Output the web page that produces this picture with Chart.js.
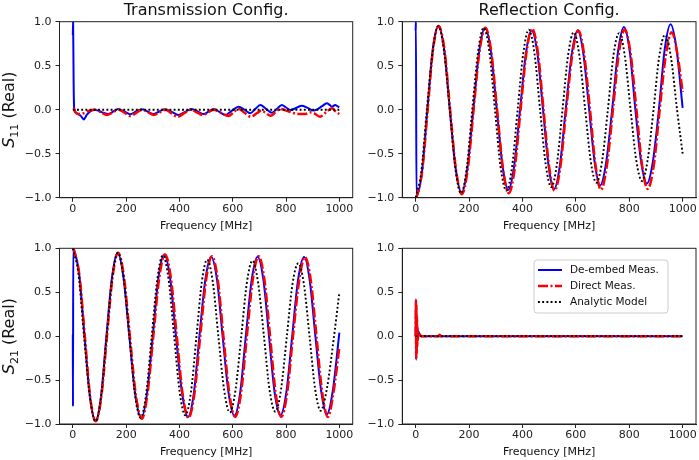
<!DOCTYPE html>
<html>
<head>
<meta charset="utf-8">
<title>S-parameters: transmission vs reflection</title>
<script src="https://cdn.jsdelivr.net/npm/chart.js@4.4.0/dist/chart.umd.min.js"></script>
<style>
  body { margin: 0; background: #fff; }
  #wrap { position: relative; width: 699px; height: 460px; }
  #wrap canvas { position: absolute; left: 0; top: 0; }
</style>
</head>
<body>
<div id="wrap">
  <canvas id="transS11" width="699" height="460"></canvas>
  <canvas id="reflS11" width="699" height="460"></canvas>
  <canvas id="transS21" width="699" height="460"></canvas>
  <canvas id="reflS21" width="699" height="460"></canvas>
</div>
<script>
// ---- data: [frequency MHz, real part] ----
const seriesNames = ['De-embed Meas.', 'Direct Meas.', 'Analytic Model'];
const freqTicks = [0, 200, 400, 600, 800, 1000];
const realTicks = [-1, -0.5, 0, 0.5, 1];

// Transmission config, S11
const transS11Deembed = [[0,0.85],[1,1.0],[3,0.3],[5,0.02],[10,-0.03],[20,-0.05],[30,-0.07],[41,-0.11],[52,-0.06],[65,-0.02],[78,0.0],[95,-0.01],[110,-0.03],[134,-0.05],[152,-0.02],[171,0.008],[193,-0.02],[215,-0.053],[237,-0.02],[259,0.004],[280,-0.02],[302,-0.05],[324,-0.02],[346,0.004],[371,-0.025],[396,-0.06],[421,-0.025],[446,0.008],[468,-0.02],[490,-0.05],[510,-0.02],[529,0.008],[550,-0.025],[572,-0.06],[597,-0.01],[622,0.034],[644,0.0],[666,-0.04],[685,0.01],[703,0.053],[725,0.01],[747,-0.034],[766,0.01],[784,0.053],[800,0.025],[816,-0.003],[838,0.02],[859,0.045],[881,0.02],[903,-0.01],[915,0.0],[935,0.04],[953,0.072],[963,0.055],[972,0.034],[984,0.053],[996,0.034],[1000,0.03]];
const transS11Direct = [[3,0.02],[10,-0.03],[22,-0.05],[40,-0.04],[62,-0.01],[84,0.0],[106,-0.03],[128,-0.06],[150,-0.03],[173,0.0],[194,-0.035],[215,-0.072],[238,-0.035],[260,0.0],[282,-0.03],[304,-0.06],[326,-0.03],[348,0.0],[370,-0.04],[393,-0.08],[418,-0.04],[442,0.0],[465,-0.03],[488,-0.06],[508,-0.03],[529,0.0],[556,-0.036],[584,-0.072],[603,-0.03],[622,0.01],[644,-0.035],[668,-0.08],[690,-0.04],[708,-0.01],[725,-0.04],[742,-0.07],[760,-0.03],[778,0.01],[800,-0.01],[820,-0.03],[845,-0.05],[870,-0.05],[890,-0.03],[905,-0.04],[927,-0.08],[950,-0.03],[972,0.016],[986,-0.02],[1000,-0.05]];
const transS11Model = [[0,0.0],[1000,0.0]];

// Reflection config, S11
const reflS11Deembed = [[0,0.9],[1,1.0],[3,-0.98],[24,-0.7],[44,0],[64,0.68],[85,0.95],[107,0.68],[128,0],[150,-0.67],[172,-0.94],[194,-0.66],[216,0],[238,0.66],[260,0.93],[282,0.66],[304,0],[326,-0.65],[347,-0.91],[369,-0.64],[391,0],[413,0.64],[434,0.9],[456,0.64],[477,0],[498,-0.64],[518,-0.905],[540,-0.64],[562,0],[585,0.64],[607,0.9],[628,0.64],[650,0],[671,-0.61],[691,-0.86],[713,-0.61],[736,0],[758,0.66],[780,0.94],[802,0.66],[823,0],[845,-0.6],[866,-0.84],[888,-0.6],[911,0],[933,0.69],[955,0.97],[977,0.69],[1000,0.02]];
const reflS11Direct = [[3,-1.0],[24,-0.71],[45,0],[65,0.68],[86,0.95],[108,0.68],[129,0],[151,-0.68],[173,-0.96],[195,-0.68],[217,0],[239,0.66],[261,0.93],[283,0.66],[305,0],[327,-0.67],[349,-0.95],[371,-0.67],[393,0],[415,0.65],[436,0.92],[458,0.65],[479,0],[500,-0.65],[520,-0.92],[542,-0.65],[564,0],[587,0.63],[609,0.9],[631,0.63],[653,0],[674,-0.64],[694,-0.91],[716,-0.64],[739,0],[761,0.64],[783,0.91],[805,0.64],[827,0],[848,-0.63],[869,-0.9],[892,-0.63],[914,0],[937,0.62],[959,0.88],[981,0.62],[1000,0.2]];
const reflS11Model = [[0,-1.0],[21,-0.71],[42,0],[64,0.67],[85,0.95],[106,0.67],[128,0],[149,-0.67],[170,-0.95],[191,-0.67],[212,0],[234,0.66],[255,0.93],[276,0.66],[297,0],[318,-0.65],[340,-0.92],[361,-0.65],[382,0],[403,0.64],[424,0.91],[445,0.64],[466,0],[487,-0.62],[508,-0.88],[529,-0.62],[550,0],[571,0.62],[592,0.88],[613,0.62],[635,0],[656,-0.59],[677,-0.83],[698,-0.59],[720,0],[741,0.62],[762,0.87],[783,0.62],[805,0],[826,-0.57],[848,-0.81],[869,-0.57],[891,0],[912,0.6],[934,0.85],[956,0.6],[979,0],[1000,-0.5]];

// Transmission config, S21
const transS21Deembed = [[0,0.02],[0.6,-0.8],[1.5,1.0],[4,0.99],[24,0.7],[44,0],[64,-0.68],[85,-0.96],[106,-0.68],[126,0],[147,0.67],[168,0.95],[190,0.67],[212,0],[234,-0.66],[257,-0.93],[278,-0.66],[300,0],[321,0.66],[343,0.93],[365,0.66],[387,0],[410,-0.65],[432,-0.92],[454,-0.65],[475,0],[497,0.64],[519,0.905],[541,0.64],[562,0],[584,-0.64],[606,-0.905],[628,-0.64],[649,0],[671,0.64],[693,0.905],[715,0.64],[736,0],[757,-0.64],[779,-0.9],[801,-0.64],[823,0],[845,0.64],[868,0.9],[889,0.63],[910,0],[932,-0.63],[953,-0.89],[975,-0.63],[1000,0.04]];
const transS21Direct = [[2,1.0],[24,0.71],[45,0],[65,-0.69],[86,-0.97],[107,-0.69],[128,0],[149,0.67],[170,0.95],[192,0.67],[214,0],[236,-0.66],[259,-0.94],[280,-0.66],[302,0],[324,0.66],[346,0.93],[368,0.66],[390,0],[412,-0.66],[434,-0.93],[456,-0.66],[478,0],[500,0.64],[522,0.91],[544,0.64],[565,0],[587,-0.65],[609,-0.92],[631,-0.65],[653,0],[675,0.64],[697,0.91],[719,0.64],[740,0],[761,-0.65],[782,-0.92],[804,-0.65],[826,0],[849,0.63],[871,0.9],[893,0.63],[914,0],[936,-0.65],[957,-0.92],[979,-0.62],[1000,-0.12]];
const transS21Model = [[0,1.0],[21,0.71],[42,0],[64,-0.69],[85,-0.97],[106,-0.69],[127,0],[148,0.67],[169,0.95],[190,0.67],[212,0],[233,-0.66],[254,-0.93],[275,-0.66],[296,0],[317,0.65],[338,0.92],[359,0.65],[380,0],[401,-0.64],[422,-0.9],[443,-0.64],[464,0],[484,0.62],[504,0.87],[525,0.62],[546,0],[568,-0.62],[589,-0.87],[610,-0.62],[632,0],[653,0.61],[674,0.86],[695,0.61],[717,0],[738,-0.61],[760,-0.86],[781,-0.61],[803,0],[824,0.59],[846,0.83],[867,0.59],[888,0],[909,-0.6],[930,-0.85],[953,-0.6],[980,0],[1000,0.5]];

// Reflection config, S21
const reflS21Deembed = [[0,0],[1,0.42],[2,-0.27],[3,0.2],[4,-0.12],[5,0.1],[7,0.04],[9,0.06],[12,0.04],[15,0.02],[20,0],[1000,0]];
const reflS21Direct = [[0,0],[1,0.4],[2,-0.25],[3,0.35],[4,-0.2],[5,0.22],[6,-0.12],[7,0.1],[8,-0.05],[10,0.04],[13,-0.01],[16,0.02],[20,0],[85,0],[90,0.015],[95,0],[1000,0]];
const reflS21Model = [[0,0],[1000,0]];

// ---- look ----
const W = 699, H = 460;
const Y_AXIS_W = 45, X_AXIS_H = 35;
const INK = '#222';
Chart.defaults.font.family = "'DejaVu Sans', sans-serif";
Chart.defaults.font.size = 11;
Chart.defaults.color = INK;

const styles = [
  { borderColor: '#0000ff', borderWidth: 2, borderDash: [], order: 2 },
  { borderColor: '#ff0000', borderWidth: 2.5, borderDash: [10, 2.5, 2, 2.5], order: 1 },
  { borderColor: '#000000', borderWidth: 1.9, borderDash: [1.9, 2.3], order: 0 }
];

const fmtReal = v => (v < 0 ? '\u2212' : '') + Math.abs(v).toFixed(1);

// frame, title, math y-label and in-axes legend
const panelText = {
  id: 'panelText',
  afterDraw(chart, args, opts) {
    const ctx = chart.ctx;
    const a = chart.chartArea;
    ctx.save();
    ctx.strokeStyle = INK;
    ctx.lineWidth = 1;
    ctx.strokeRect(a.left, a.top, a.right - a.left, a.bottom - a.top);

    ctx.fillStyle = '#111';
    if (opts.title) {
      ctx.font = "16px 'DejaVu Sans'";
      ctx.textAlign = 'center';
      ctx.textBaseline = 'alphabetic';
      ctx.fillText(opts.title, (a.left + a.right) / 2, 15);
    }

    if (opts.ylabel) {
      const F = 16;
      const [sym, sub, rest] = opts.ylabel;
      ctx.save();
      ctx.translate(10, (a.top + a.bottom) / 2);
      ctx.rotate(-Math.PI / 2);
      ctx.textAlign = 'left';
      ctx.textBaseline = 'middle';
      ctx.font = "italic " + F + "px 'DejaVu Sans'";
      const w1 = ctx.measureText(sym).width;
      ctx.font = Math.round(F * 0.7) + "px 'DejaVu Sans'";
      const w2 = ctx.measureText(sub).width;
      ctx.font = F + "px 'DejaVu Sans'";
      const w3 = ctx.measureText(rest).width;
      let x = -(w1 + w2 + w3) / 2;
      ctx.font = "italic " + F + "px 'DejaVu Sans'";
      ctx.fillText(sym, x, 0);
      x += w1;
      ctx.font = Math.round(F * 0.7) + "px 'DejaVu Sans'";
      ctx.fillText(sub, x, F * 0.3);
      x += w2;
      ctx.font = F + "px 'DejaVu Sans'";
      ctx.fillText(rest, x, 0);
      ctx.restore();
    }

    if (opts.legend) {
      const [lx, ly, lw, lh] = [534, 260, 134, 53];
      ctx.beginPath();
      ctx.roundRect(lx, ly, lw, lh, 3);
      ctx.fillStyle = 'rgba(255,255,255,0.8)';
      ctx.fill();
      ctx.strokeStyle = '#cccccc';
      ctx.stroke();
      chart.data.datasets.forEach((ds, i) => {
        const y = ly + 10 + i * 16;
        ctx.beginPath();
        ctx.setLineDash(ds.borderDash);
        ctx.strokeStyle = ds.borderColor;
        ctx.lineWidth = ds.borderWidth;
        ctx.moveTo(538, y);
        ctx.lineTo(562, y);
        ctx.stroke();
        ctx.setLineDash([]);
        ctx.fillStyle = '#111';
        ctx.font = "10.5px 'DejaVu Sans'";
        ctx.textAlign = 'left';
        ctx.textBaseline = 'middle';
        ctx.fillText(ds.label, 570, y);
      });
    }
    ctx.restore();
  }
};

function panel(id, frame, series, text) {
  const [left, top, right, bottom] = frame;
  new Chart(document.getElementById(id), {
    type: 'line',
    data: {
      datasets: series.map((pts, i) => Object.assign({
        label: seriesNames[i],
        data: pts.map(([x, y]) => ({ x, y })),
        pointRadius: 0,
        fill: false,
        cubicInterpolationMode: 'monotone'
      }, styles[i]))
    },
    options: {
      responsive: false,
      animation: false,
      events: [],
      layout: { padding: { left: left - Y_AXIS_W, top: top, right: W - right, bottom: H - bottom - X_AXIS_H } },
      plugins: { legend: { display: false }, tooltip: { enabled: false }, panelText: text },
      scales: {
        x: {
          type: 'linear', min: -50, max: 1050,
          afterBuildTicks: s => { s.ticks = freqTicks.map(v => ({ value: v })); },
          afterFit: s => { s.height = X_AXIS_H; },
          ticks: { maxRotation: 0, autoSkip: false, padding: 1, callback: v => String(v) },
          grid: { drawOnChartArea: false, tickLength: 4, color: INK },
          border: { color: INK },
          title: { display: true, text: 'Frequency [MHz]', padding: 0, color: '#111' }
        },
        y: {
          type: 'linear', min: -1, max: 1,
          afterBuildTicks: s => { s.ticks = realTicks.map(v => ({ value: v })); },
          afterFit: s => { s.width = Y_AXIS_W; },
          ticks: { padding: 4, callback: fmtReal },
          grid: { drawOnChartArea: false, tickLength: 4, color: INK },
          border: { color: INK }
        }
      }
    },
    plugins: [panelText]
  });
}

panel('transS11', [59.5, 21.7, 352.7, 197.7],
  [transS11Deembed, transS11Direct, transS11Model],
  { title: 'Transmission Config.', ylabel: ['S', '11', ' (Real)'] });
panel('reflS11', [402.3, 21.7, 696, 197.7],
  [reflS11Deembed, reflS11Direct, reflS11Model],
  { title: 'Reflection Config.' });
panel('transS21', [59.5, 248.3, 352.7, 424],
  [transS21Deembed, transS21Direct, transS21Model],
  { ylabel: ['S', '21', ' (Real)'] });
panel('reflS21', [402.3, 248.3, 696, 424],
  [reflS21Deembed, reflS21Direct, reflS21Model],
  { legend: true });
</script>
</body>
</html>
